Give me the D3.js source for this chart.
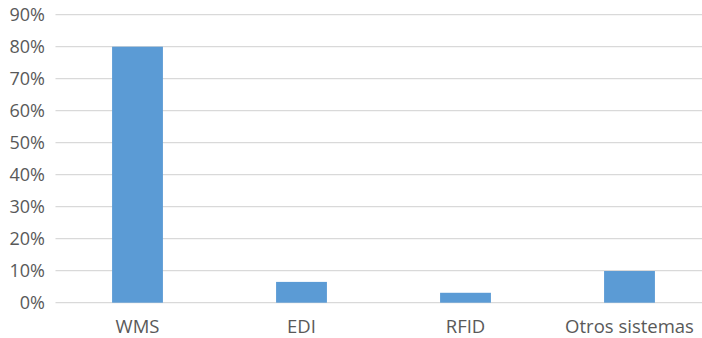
<!DOCTYPE html>
<html>
<head>
<meta charset="utf-8">
<script src="https://cdnjs.cloudflare.com/ajax/libs/d3/7.8.5/d3.min.js"></script>
<style>
  body { margin: 0; background: #fff; }
  svg { display: block; font-family: "Open Sans", "Noto Sans", sans-serif; }
</style>
</head>
<body>
<svg id="vis"></svg>
<script>
const categories = ["WMS", "EDI", "RFID", "Otros sistemas"];
const values = [0.80, 0.065, 0.031, 0.099];
const yTicks = [0, 0.1, 0.2, 0.3, 0.4, 0.5, 0.6, 0.7, 0.8, 0.9];

let config = { svg: {}, plot: {} };
config.svg.width = 702;
config.svg.height = 338;
config.plot.left = 55.5;
config.plot.right = 711.5;
config.plot.top = 14.7;
config.plot.bottom = 302.7;

const svg = d3.select("svg#vis")
  .attr("width", config.svg.width)
  .attr("height", config.svg.height);

let scale = {};
scale.x = d3.scaleBand()
  .domain(categories)
  .range([config.plot.left, config.plot.right])
  .paddingInner(0.69)
  .paddingOuter(0.345);

scale.y = d3.scaleLinear()
  .domain([0, 0.9])
  .range([config.plot.bottom, config.plot.top]);

// gridlines
svg.append("g")
  .selectAll("line")
  .data(yTicks)
  .enter()
  .append("line")
  .attr("x1", config.plot.left)
  .attr("x2", config.svg.width)
  .attr("y1", d => scale.y(d))
  .attr("y2", d => scale.y(d))
  .attr("stroke", "#d9d9d9")
  .attr("stroke-width", 1.3);

// bars
svg.append("g")
  .selectAll("rect")
  .data(values)
  .enter()
  .append("rect")
  .attr("x", (d, i) => scale.x(categories[i]))
  .attr("y", d => scale.y(d))
  .attr("width", scale.x.bandwidth())
  .attr("height", d => scale.y(0) - scale.y(d))
  .attr("fill", "#5b9bd5");

// y labels
svg.append("g")
  .selectAll("text")
  .data(yTicks)
  .enter()
  .append("text")
  .attr("x", 45)
  .attr("y", d => scale.y(d))
  .attr("dy", "0.35em")
  .attr("text-anchor", "end")
  .attr("font-size", "18px")
  .attr("fill", "#595959")
  .text(d => Math.round(d * 100) + "%");

// x labels
svg.append("g")
  .selectAll("text")
  .data(categories)
  .enter()
  .append("text")
  .attr("x", d => scale.x(d) + scale.x.bandwidth() / 2)
  .attr("y", 327)
  .attr("dy", "0.35em")
  .attr("text-anchor", "middle")
  .attr("font-size", "18.5px")
  .attr("fill", "#595959")
  .text(d => d);
</script>
</body>
</html>
